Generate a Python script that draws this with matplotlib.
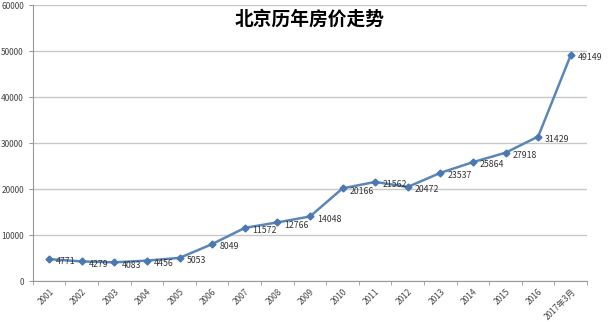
import matplotlib
import matplotlib.pyplot as plt

matplotlib.use("Agg")

plt.rcParams["font.family"] = ["Noto Sans CJK SC", "DejaVu Sans"]

years = ["2001", "2002", "2003", "2004", "2005", "2006", "2007", "2008", "2009",
         "2010", "2011", "2012", "2013", "2014", "2015", "2016", "2017年3月"]
prices = [4771, 4279, 4083, 4456, 5053, 8049, 11572, 12766, 14048,
          20166, 21562, 20472, 23537, 25864, 27918, 31429, 49149]


def main():
    fig = plt.figure(figsize=(6.09, 3.22), dpi=100)
    ax = fig.add_axes([0.054, 0.127, 0.91, 0.857])

    x = list(range(len(years)))
    ax.plot(x, prices, color="#5b86b8", lw=1.8, marker="D", ms=3.5,
            mfc="#4a78b0", mec="#4a78b0", zorder=3)
    for xi, v in zip(x, prices):
        ax.annotate(str(v), (xi, v), xytext=(5, -2), textcoords="offset points",
                    ha="left", va="center", fontsize=6.3, color="#333333")

    ax.set_xlim(-0.5, len(years) - 0.5)
    ax.set_ylim(0, 60000)
    ax.set_yticks(range(0, 60001, 10000))
    ax.yaxis.grid(True, color="#c8c8c8", lw=1)
    ax.set_axisbelow(True)

    ax.set_xticks(x)
    ax.set_xticklabels(years, rotation=45, ha="right", rotation_mode="anchor",
                       fontsize=6, color="#444444")
    ax.tick_params(axis="x", which="major", length=0, pad=4)
    ax.set_xticks([i - 0.5 for i in range(len(years) + 1)], minor=True)
    ax.tick_params(axis="x", which="minor", length=3, color="#999999")
    ax.tick_params(axis="y", labelsize=6, colors="#444444", length=3)
    ax.tick_params(axis="y", color="#999999")

    for side in ["top", "right"]:
        ax.spines[side].set_visible(False)
    ax.spines["left"].set_color("#999999")
    ax.spines["bottom"].set_color("#999999")

    ax.text(0.5, 0.95, "北京历年房价走势", transform=ax.transAxes,
            ha="center", va="center", fontsize=13.5, fontweight="bold")

    fig.savefig("out.png", dpi=100)
    plt.close(fig)


if __name__ == "__main__":
    main()
